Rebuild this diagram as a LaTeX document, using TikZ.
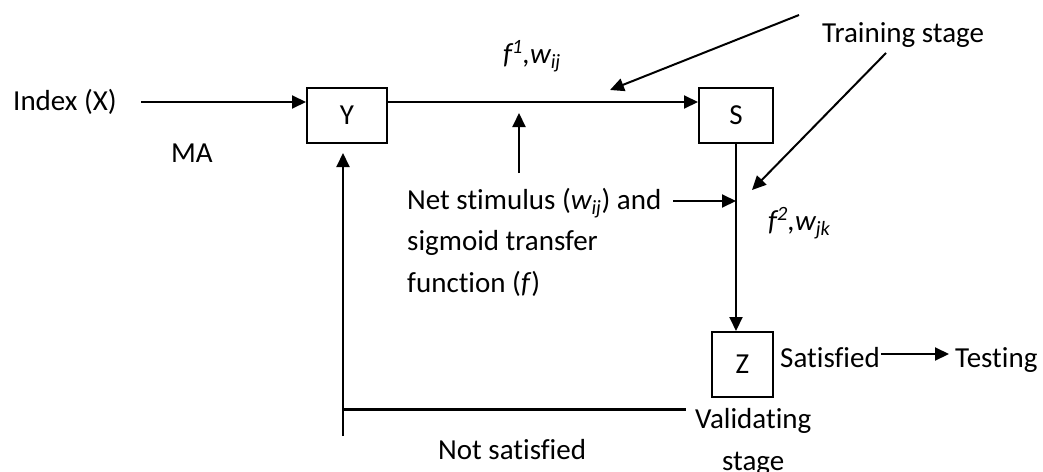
\documentclass[tikz,border=0pt]{standalone}
\usepackage{fontspec}
\setmainfont{Carlito}[Ligatures={NoCommon}]
\usetikzlibrary{arrows.meta}
\begin{document}
\begin{tikzpicture}[x=1pt,y=-1pt,
  every node/.style={font=\fontsize{29}{41.5}\selectfont, inner sep=0pt},
  txt/.style={anchor=base west},
  box/.style={draw, line width=2pt},
  arr/.style={line width=2pt, -{Triangle[length=14pt,width=13pt]}},
  ln/.style={line width=2pt}]
\useasboundingbox (0,0) rectangle (1043,471);
% boxes
\node[box, minimum width=80pt, minimum height=55pt] (Y) at (347,115.5) {Y};
\node[box, minimum width=74pt, minimum height=55pt] (S) at (736,115.5) {S};
\node[box, minimum width=61pt, minimum height=65pt] (Z) at (742.5,364.5) {Z};
% texts
\node[txt] (idx) at (13,110) {Index (X)};
\node[txt] (ma) at (171,162) {MA};
\node[txt] (f1) at (503,63) {\textit{f\textsuperscript{1},w\textsubscript{ij}}};
\node[txt] (train) at (822,42) {Training stage};
\node[txt, align=left] (net) at (407,292) {Net stimulus (\textit{w\textsubscript{ij}}) and\\sigmoid transfer\\function (\textit{f})};
\node[txt] (f2) at (768,230) {\textit{f\textsuperscript{2},w\textsubscript{jk}}};
\node[txt] (sat) at (780,367) {Satisfied};
\node[txt] (test) at (955,367) {Testing};
\node[txt] (val) at (695,428) {Validating};
\node[txt] (stg) at (722,470) {stage};
\node[txt] (nsat) at (438,459) {Not satisfied};
% coordinates
\coordinate (a0) at (141,102);
\coordinate (t1s) at (799,15);
\coordinate (t1e) at (610,90);
\coordinate (t2s) at (886,53);
\coordinate (t2e) at (752,190);
\coordinate (n1s) at (519,173);
\coordinate (n1e) at (519,113);
\coordinate (n2s) at (673,201);
\coordinate (n2e) at (736,201);
\coordinate (fbb) at (343,436);
\coordinate (fbt) at (343,153);
\coordinate (fhl) at (343,409);
\coordinate (fhr) at (686,409);
\coordinate (sy) at (0,354);
% connectors
\draw[arr] (a0) -- (a0 -| Y.west);
\draw[arr] (Y.east |- a0) -- (S.west |- a0);
\draw[arr] (t1s) -- (t1e);
\draw[arr] (t2s) -- (t2e);
\draw[arr] (n1s) -- (n1e);
\draw[arr] (n2s) -- (n2e);
\draw[arr] (S.south) -- (S.south |- Z.north);
\draw[arr, shorten >=6pt, shorten <=1pt] (sat.east |- sy) -- (test.west |- sy);
\draw[arr] (fbb) -- (fbt);
\draw[line width=3pt] (fhl) -- (fhr);
\end{tikzpicture}
\end{document}
